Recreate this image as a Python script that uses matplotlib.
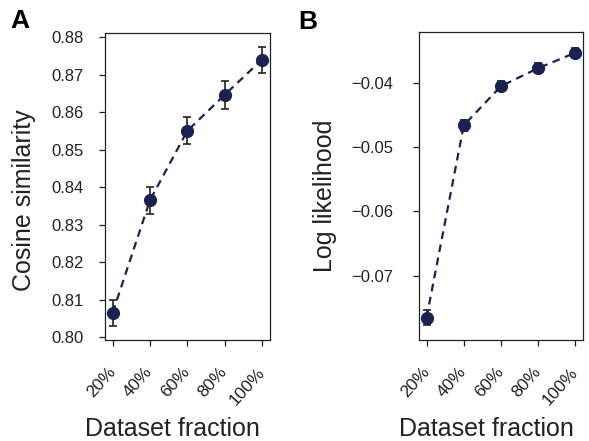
import numpy as np
import matplotlib
matplotlib.use("Agg")
from matplotlib import pyplot as plt
from matplotlib.transforms import ScaledTranslation

plt.rcParams['font.family'] = ['Liberation Sans', 'DejaVu Sans']

fractions   = ["20%", "40%", "60%", "80%", "100%"]

cos_sim     = [0.8065, 0.8365, 0.8550, 0.8646, 0.8740]
cos_err     = [0.0035, 0.0036, 0.0036, 0.0037, 0.0035]

loglik      = [-0.0765, -0.0466, -0.0405, -0.0377, -0.0353]
loglik_err  = [0.0012, 0.0009, 0.0008, 0.0008, 0.0008]

NAVY = "#1b2150"

fig = plt.figure(figsize=(5.89, 4.41), dpi=100)
axA = fig.add_axes([0.178, 0.229, 0.280, 0.696])
axB = fig.add_axes([0.711, 0.229, 0.279, 0.698])


def panel(ax, y, yerr, ylim, yticks, ylab, ypad, ylab_pos):
    x = np.arange(len(fractions))
    ax.errorbar(x, y, yerr=yerr, fmt="none", ecolor="#222222",
                elinewidth=1.2, capsize=3, capthick=1.2, zorder=2)
    ax.plot(x, y, "--", color=NAVY, lw=1.6, dashes=(3.5, 2.5), zorder=3)
    ax.plot(x, y, "o", color=NAVY, ms=8.5, zorder=4)

    ax.set_xlim(-0.21, 4.21)
    ax.set_ylim(*ylim)
    ax.set_yticks(yticks)
    ax.set_xticks(x)
    ax.set_xticklabels(fractions, rotation=48, ha="right", va="center",
                       rotation_mode="anchor")
    # nudge the rotated labels so they sit right of their ticks
    off = ScaledTranslation(12 / 100, 0, fig.dpi_scale_trans)
    for lab in ax.get_xticklabels():
        lab.set_transform(lab.get_transform() + off)

    ax.tick_params(axis="x", direction="out", length=4.3, width=0.9,
                   pad=17, labelsize=12.5, colors="#222222")
    ax.tick_params(axis="y", direction="out", length=4.3, width=0.9,
                   pad=ypad, labelsize=12, colors="#222222")
    for s in ax.spines.values():
        s.set_linewidth(0.9)
        s.set_color("#222222")

    ax.set_xlabel("Dataset fraction", fontsize=18, color="#222222")
    ax.xaxis.set_label_coords(0.41, -0.29)
    ax.xaxis.label.set_va("center")
    ax.set_ylabel(ylab, fontsize=18, color="#222222")
    ax.yaxis.set_label_coords(*ylab_pos)
    ax.yaxis.label.set_va("center")


panel(axA, cos_sim, cos_err, (0.7992, 0.8811),
      [0.80, 0.81, 0.82, 0.83, 0.84, 0.85, 0.86, 0.87, 0.88],
      "Cosine similarity", 11, (-0.49, 0.455))
axA.set_yticklabels(["%.2f" % v for v in axA.get_yticks()])

panel(axB, loglik, loglik_err, (-0.0800, -0.0321),
      [-0.07, -0.06, -0.05, -0.04],
      "Log likelihood", 14.4, (-0.573, 0.468))
axB.set_yticklabels(["\u2212%.2f" % abs(v) for v in axB.get_yticks()])

fig.text(20 / 589, 1 - 21 / 441, "A", fontsize=19, fontweight="bold",
         ha="center", va="center")
fig.text(308 / 589, 1 - 22 / 441, "B", fontsize=19, fontweight="bold",
         ha="center", va="center")

fig.savefig("out.png", dpi=100)
